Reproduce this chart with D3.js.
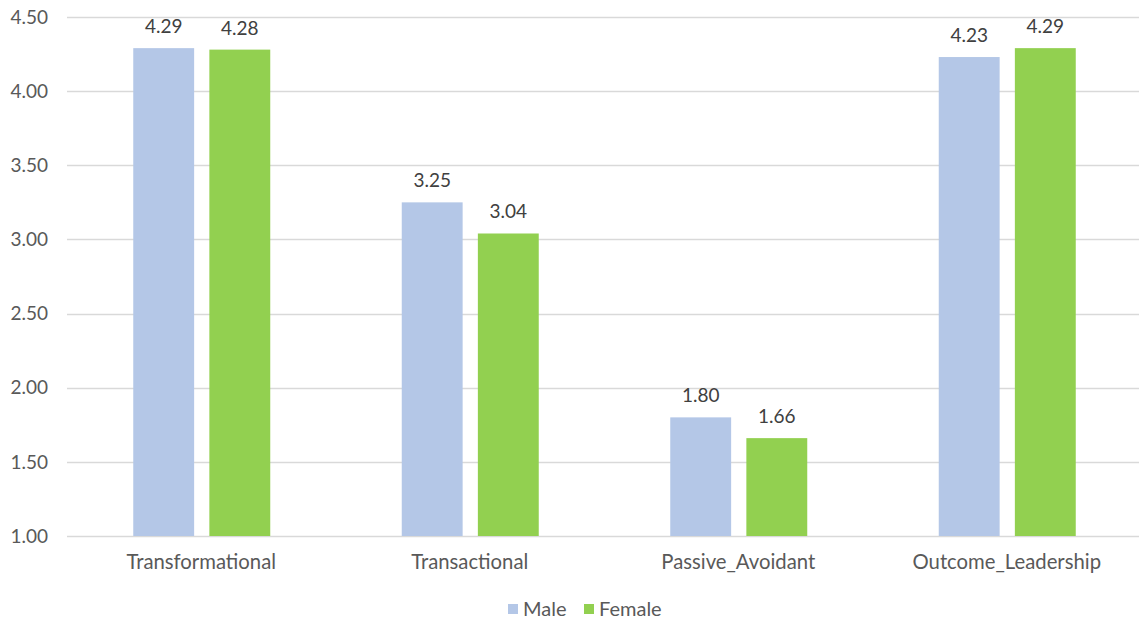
<!DOCTYPE html>
<html>
<head>
<meta charset="utf-8">
<script src="https://cdn.jsdelivr.net/npm/d3@7"></script>
<style>
  body { margin: 0; background: #fff; }
  svg { display: block; font-family: Lato, "Open Sans", sans-serif; }
</style>
</head>
<body>
<svg></svg>
<script>
let width = 1139, height = 621;

// data
let categories = ["Transformational", "Transactional", "Passive_Avoidant", "Outcome_Leadership"];
let seriesNames = ["Male", "Female"];
let maleValues = [4.29, 3.25, 1.80, 4.23];
let femaleValues = [4.28, 3.04, 1.66, 4.29];
let yTicks = [1.00, 1.50, 2.00, 2.50, 3.00, 3.50, 4.00, 4.50];
let colors = ["#b4c7e7", "#92d050"];

let svg = d3.select("svg")
    .attr("width", width)
    .attr("height", height);

let margin = { left: 67, right: -2, top: 17, bottom: 85 };

let x = d3.scaleBand()
    .domain(categories)
    .range([margin.left, width - margin.right])
    .paddingInner(0)
    .paddingOuter(0);

let xInner = d3.scaleBand()
    .domain(seriesNames)
    .range([0, 137])
    .paddingInner(0.2);

let y = d3.scaleLinear()
    .domain([1, 4.5])
    .range([height - margin.bottom, margin.top]);

let fs = 19;

// gridlines
svg.append("g")
    .selectAll("line")
    .data(yTicks)
    .enter()
    .append("line")
    .attr("x1", margin.left)
    .attr("x2", width)
    .attr("y1", d => Math.round(y(d)) + 0.5)
    .attr("y2", d => Math.round(y(d)) + 0.5)
    .attr("stroke", "#d9d9d9")
    .attr("stroke-width", 1.3);

// y labels
svg.append("g")
    .selectAll("text")
    .data(yTicks)
    .enter()
    .append("text")
    .attr("x", 48)
    .attr("y", d => y(d))
    .attr("dy", "0.35em")
    .attr("text-anchor", "end")
    .attr("fill", "#595959")
    .attr("font-size", fs)
    .text(d => d.toFixed(2));

// bars
let rows = categories.map((c, i) => ({ cat: c, vals: [maleValues[i], femaleValues[i]] }));

let groups = svg.append("g")
    .selectAll("g")
    .data(rows)
    .enter()
    .append("g")
    .attr("transform", d => "translate(" + (x(d.cat) + x.bandwidth() / 2 - 68) + ",0)");

groups.selectAll("rect")
    .data(d => d.vals.map((v, j) => ({ name: seriesNames[j], v: v, j: j })))
    .enter()
    .append("rect")
    .attr("x", d => xInner(d.name))
    .attr("width", xInner.bandwidth())
    .attr("y", d => y(d.v))
    .attr("height", d => y(1) - y(d.v))
    .attr("fill", d => colors[d.j]);

groups.selectAll("text")
    .data(d => d.vals.map((v, j) => ({ name: seriesNames[j], v: v, j: j })))
    .enter()
    .append("text")
    .attr("x", d => xInner(d.name) + xInner.bandwidth() / 2)
    .attr("y", d => y(d.v) - 15)
    .attr("text-anchor", "middle")
    .attr("fill", "#404040")
    .attr("font-size", fs)
    .text(d => d.v.toFixed(2));

// category labels
svg.append("g")
    .selectAll("text")
    .data(categories)
    .enter()
    .append("text")
    .attr("x", d => x(d) + x.bandwidth() / 2)
    .attr("y", 569)
    .attr("text-anchor", "middle")
    .attr("fill", "#595959")
    .attr("font-size", 20.3)
    .text(d => d);

// legend
let legendX = [508, 584];
let legend = svg.append("g")
    .selectAll("g")
    .data(seriesNames)
    .enter()
    .append("g")
    .attr("transform", (d, i) => "translate(" + legendX[i] + ",604)");

legend.append("rect")
    .attr("width", 10)
    .attr("height", 10)
    .attr("fill", (d, i) => colors[i]);

legend.append("text")
    .attr("x", 15)
    .attr("y", 5)
    .attr("dy", "0.35em")
    .attr("fill", "#595959")
    .attr("font-size", 20)
    .text(d => d);
</script>
</body>
</html>
